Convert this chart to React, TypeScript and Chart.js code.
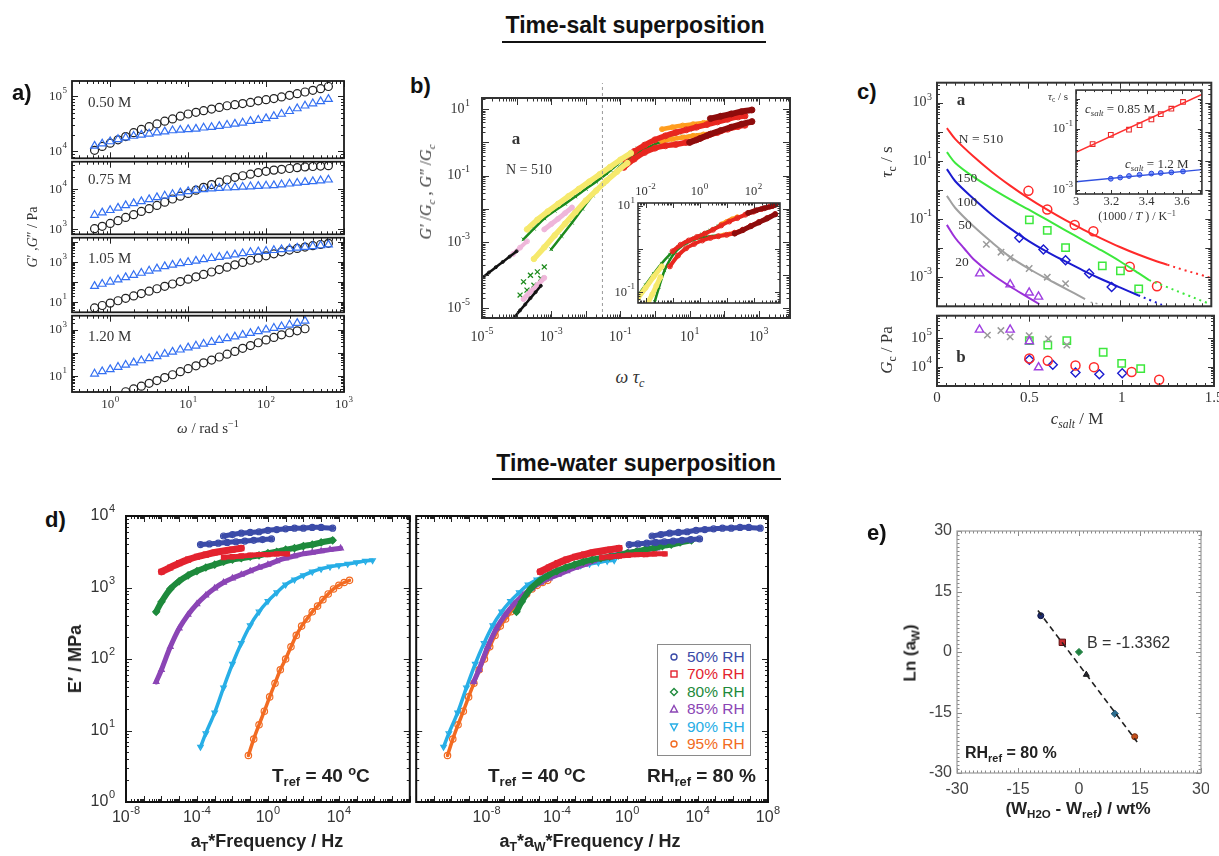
import React, { useEffect, useRef } from 'react';
import { Chart, registerables } from 'chart.js';

Chart.register(...registerables);

const SERIF = '"Liberation Serif", "DejaVu Serif", serif';
const SANS = '"Liberation Sans", "DejaVu Sans", Arial, sans-serif';

/* ---------------- Panel a : frequency sweeps (log10 of G', G'' in Pa) ---------------- */
const OMEGA = [0.63, 0.79, 1.0, 1.26, 1.58, 2.0, 2.51, 3.16, 3.98, 5.01, 6.31, 7.94, 10, 12.6, 15.8, 20, 25.1, 31.6, 39.8, 50.1, 63.1, 79.4, 100, 126, 158, 200, 251, 316, 398, 501, 631];
const A1_GP = [4.02, 4.09, 4.15, 4.21, 4.27, 4.34, 4.40, 4.45, 4.50, 4.55, 4.59, 4.64, 4.68, 4.71, 4.74, 4.77, 4.80, 4.83, 4.85, 4.87, 4.89, 4.92, 4.94, 4.96, 4.99, 5.02, 5.05, 5.08, 5.11, 5.14, 5.18];
const A1_GPP = [4.10, 4.14, 4.18, 4.22, 4.25, 4.28, 4.30, 4.32, 4.34, 4.36, 4.38, 4.39, 4.40, 4.41, 4.43, 4.44, 4.46, 4.48, 4.50, 4.52, 4.55, 4.57, 4.60, 4.64, 4.68, 4.73, 4.78, 4.83, 4.87, 4.91, 4.95];
const A2_GP = [3.02, 3.08, 3.15, 3.22, 3.30, 3.37, 3.45, 3.52, 3.60, 3.68, 3.76, 3.83, 3.90, 3.98, 4.05, 4.12, 4.18, 4.24, 4.30, 4.34, 4.38, 4.42, 4.45, 4.48, 4.50, 4.52, 4.54, 4.56, 4.57, 4.58, 4.59];
const A2_GPP = [3.36, 3.42, 3.48, 3.54, 3.60, 3.65, 3.70, 3.75, 3.80, 3.84, 3.88, 3.92, 3.95, 3.98, 4.00, 4.02, 4.03, 4.04, 4.05, 4.06, 4.07, 4.08, 4.09, 4.10, 4.12, 4.14, 4.16, 4.18, 4.20, 4.22, 4.24];
const A3_GP = [0.71, 0.83, 0.95, 1.07, 1.19, 1.31, 1.43, 1.55, 1.67, 1.79, 1.91, 2.03, 2.15, 2.27, 2.39, 2.51, 2.63, 2.75, 2.87, 2.99, 3.10, 3.21, 3.32, 3.42, 3.52, 3.61, 3.69, 3.76, 3.83, 3.89, 3.95];
const A3_GPP = [1.80, 1.91, 2.02, 2.13, 2.24, 2.35, 2.46, 2.57, 2.68, 2.79, 2.87, 2.94, 3.00, 3.07, 3.14, 3.20, 3.26, 3.32, 3.38, 3.44, 3.50, 3.53, 3.56, 3.60, 3.64, 3.68, 3.72, 3.76, 3.80, 3.84, 3.88];
const A4_OMEGA_GP = OMEGA.slice(4, 28);
const A4_GP = [0.34, 0.46, 0.58, 0.70, 0.82, 0.95, 1.07, 1.20, 1.33, 1.45, 1.58, 1.70, 1.83, 1.95, 2.07, 2.20, 2.32, 2.44, 2.56, 2.67, 2.78, 2.87, 2.95, 3.04];
const A4_OMEGA_GPP = OMEGA.slice(0, 28);
const A4_GPP = [1.11, 1.21, 1.30, 1.40, 1.49, 1.59, 1.68, 1.77, 1.86, 1.96, 2.05, 2.14, 2.23, 2.31, 2.39, 2.47, 2.55, 2.63, 2.70, 2.78, 2.85, 2.93, 3.00, 3.07, 3.14, 3.21, 3.28, 3.38];
const A_CONC = ['0.50 M', '0.75 M', '1.05 M', '1.20 M'];
const A_XTICKS = [1, 10, 100, 1000];
const A1_YTICKS = [1e4, 1e5];
const A2_YTICKS = [1e3, 1e4];
const A3_YTICKS = [10, 1000];
const A4_YTICKS = [10, 1000];

/* ---------------- Panel b : master curve (log10 omega*tau, log10 G/Gc) ---------------- */
const B_BLACK_U_X = [-5.0, -4.8, -4.6, -4.4, -4.2, -4.0];
const B_BLACK_U_Y = [-4.08, -3.92, -3.76, -3.60, -3.44, -3.28];
const B_BLACK_L_X = [-4.05, -3.9, -3.75, -3.6, -3.45, -3.3];
const B_BLACK_L_Y = [-5.25, -5.06, -4.88, -4.69, -4.51, -4.32];
const B_PINK_U_X = [-4.1, -3.9, -3.7];
const B_PINK_U_Y = [-3.36, -3.17, -2.98];
const B_PINK_L1_X = [-3.8, -3.6, -3.4, -3.2];
const B_PINK_L1_Y = [-4.72, -4.5, -4.3, -4.08];
const B_PINK_L2_X = [-3.2, -3.0, -2.8, -2.6, -2.4];
const B_PINK_L2_Y = [-2.62, -2.46, -2.3, -2.13, -1.96];
const B_YEL_U_X = [-3.7, -3.4, -3.1, -2.8, -2.5, -2.2, -1.9, -1.6, -1.3, -1.0, -0.7];
const B_YEL_U_Y = [-2.62, -2.33, -2.08, -1.85, -1.62, -1.40, -1.18, -0.96, -0.74, -0.52, -0.32];
const B_YEL_L_X = [-3.5, -3.2, -2.9, -2.6, -2.3, -2.0, -1.7, -1.4, -1.1, -0.8];
const B_YEL_L_Y = [-3.51, -3.16, -2.80, -2.45, -2.10, -1.75, -1.45, -1.15, -0.88, -0.62];
const B_GRN_U_X = [-3.8, -3.5, -3.2, -2.9, -2.6, -2.3, -2.0, -1.7, -1.4, -1.1, -0.8, -0.5, -0.2, 0.1, 0.4, 0.7, 1.0, 1.25];
const B_GRN_U_Y = [-2.92, -2.60, -2.29, -2.06, -1.85, -1.63, -1.40, -1.18, -0.94, -0.67, -0.40, -0.18, -0.03, 0.08, 0.19, 0.29, 0.39, 0.47];
const B_GRN_L_X = [-3.0, -2.7, -2.4, -2.1, -1.8, -1.5, -1.2, -0.9, -0.6, -0.3, 0, 0.3, 0.6, 0.9, 1.25];
const B_GRN_L_Y = [-3.22, -2.82, -2.42, -2.00, -1.60, -1.24, -0.92, -0.62, -0.38, -0.20, -0.05, 0.05, 0.12, 0.18, 0.23];
const B_GRN_X_X = [-3.9, -3.8, -3.7, -3.6, -3.5, -3.4, -3.3, -3.2];
const B_GRN_X_Y = [-4.6, -4.2, -4.45, -4.0, -4.3, -3.9, -4.1, -3.75];
const B_ORG_U_X = [0.2, 0.5, 0.8, 1.1, 1.4, 1.7];
const B_ORG_U_Y = [0.40, 0.46, 0.51, 0.55, 0.59, 0.62];
const B_ORG_L_X = [0.2, 0.5, 0.8, 1.1, 1.4, 1.7];
const B_ORG_L_Y = [0.04, 0.10, 0.15, 0.20, 0.24, 0.28];
const B_RED_X = [-0.9, -0.6, -0.3, 0, 0.3, 0.6, 0.9, 1.2, 1.5, 1.8, 2.1, 2.4, 2.6];
const B_RED_U_Y = [-0.50, -0.27, -0.08, 0.08, 0.20, 0.30, 0.38, 0.46, 0.54, 0.62, 0.70, 0.77, 0.80];
const B_RED_L_Y = [-0.75, -0.50, -0.30, -0.17, -0.10, -0.06, 0.00, 0.08, 0.20, 0.30, 0.40, 0.48, 0.52];
const B_DRD_U_X = [1.6, 1.9, 2.2, 2.5, 2.8];
const B_DRD_U_Y = [0.72, 0.79, 0.86, 0.93, 0.98];
const B_DRD_L_X = [1.0, 1.3, 1.6, 1.9, 2.2, 2.5, 2.8];
const B_DRD_L_Y = [0.00, 0.12, 0.25, 0.36, 0.46, 0.55, 0.63];
const B_DASH_X = [-1.52, -1.52];
const B_DASH_Y = [-5.29, 1.79];
const B_XTICKS = [1e-5, 1e-3, 1e-1, 10, 1000];
const B_YTICKS = [1e-5, 1e-3, 1e-1, 10];
// inset of b
const BI_GRN_P_X = [-2.28, -2.0, -1.7, -1.4, -1.1, -0.8, -0.5, -0.2, 0.1, 0.4, 0.7, 1.0, 1.2];
const BI_GRN_P_Y = [-1.08, -0.83, -0.57, -0.33, -0.12, 0.05, 0.17, 0.26, 0.35, 0.44, 0.54, 0.63, 0.69];
const BI_YEL_P_X = [-2.28, -2.0, -1.7, -1.4];
const BI_YEL_P_Y = [-1.13, -0.9, -0.64, -0.4];
const BI_RED_P_X = [-1.0, -0.7, -0.4, -0.1, 0.2, 0.5, 0.8, 1.1, 1.4, 1.7, 2.0, 2.3, 2.6, 2.8];
const BI_RED_P_Y = [-0.05, 0.10, 0.20, 0.28, 0.36, 0.45, 0.55, 0.64, 0.72, 0.80, 0.87, 0.93, 0.99, 1.03];
const BI_ORG_P_X = [0.8, 1.0, 1.2, 1.4];
const BI_ORG_P_Y = [0.58, 0.64, 0.70, 0.75];
const BI_DRD_P_X = [1.8, 2.1, 2.4, 2.7, 2.8];
const BI_DRD_P_Y = [0.84, 0.90, 0.95, 1.00, 1.03];
const BI_GRN_Q_X = [-1.66, -1.5, -1.3, -1.1, -0.9, -0.7, -0.5, -0.2, 0.1, 0.4, 0.7, 1.0, 1.2];
const BI_GRN_Q_Y = [-1.22, -0.88, -0.50, -0.25, -0.07, 0.05, 0.13, 0.22, 0.27, 0.30, 0.32, 0.33, 0.35];
const BI_YEL_Q_X = [-1.9, -1.75, -1.6, -1.45];
const BI_YEL_Q_Y = [-1.22, -1.05, -0.85, -0.65];
const BI_RED_Q_X = [-1.1, -0.8, -0.5, -0.2, 0.1, 0.4, 0.7, 1.0, 1.3, 1.6, 1.9, 2.2, 2.5, 2.8];
const BI_RED_Q_Y = [-0.40, -0.15, 0.02, 0.12, 0.20, 0.26, 0.30, 0.33, 0.38, 0.45, 0.54, 0.63, 0.72, 0.81];
const BI_ORG_Q_X = [0.7, 0.9, 1.1, 1.3, 1.5];
const BI_ORG_Q_Y = [0.30, 0.33, 0.35, 0.38, 0.42];
const BI_DRD_Q_X = [1.3, 1.6, 1.9, 2.2, 2.5, 2.8];
const BI_DRD_Q_Y = [0.36, 0.44, 0.53, 0.62, 0.71, 0.81];
const BI_XTICKS = [1e-2, 1, 100];
const BI_YTICKS = [0.1, 10];

/* ---------------- Panel c : tau_c and G_c vs c_salt (log10 values) ---------------- */
const C_RED_LINE_X = [0.054, 0.1, 0.2, 0.3, 0.4, 0.5, 0.6, 0.7, 0.8, 0.9, 1.0, 1.1, 1.2, 1.26];
const C_RED_LINE_Y = [2.13, 1.75, 1.15, 0.62, 0.15, -0.28, -0.67, -1.03, -1.36, -1.67, -1.96, -2.22, -2.45, -2.57];
const C_RED_DOT_X = [1.26, 1.35, 1.45, 1.5];
const C_RED_DOT_Y = [-2.57, -2.75, -2.93, -3.03];
const C_GRN_LINE_X = [0.054, 0.1, 0.2, 0.3, 0.4, 0.5, 0.6, 0.7, 0.8, 0.9, 1.0, 1.1, 1.16];
const C_GRN_LINE_Y = [1.3, 0.93, 0.45, 0.05, -0.32, -0.67, -1.02, -1.38, -1.73, -2.08, -2.45, -2.85, -3.1];
const C_GRN_DOT_X = [1.16, 1.25, 1.35, 1.48];
const C_GRN_DOT_Y = [-3.1, -3.32, -3.57, -3.89];
const C_BLU_LINE_X = [0.054, 0.1, 0.2, 0.3, 0.4, 0.5, 0.6, 0.7, 0.8, 0.9, 1.0, 1.1];
const C_BLU_LINE_Y = [0.72, 0.3, -0.3, -0.85, -1.32, -1.75, -2.12, -2.45, -2.77, -3.07, -3.35, -3.62];
const C_BLU_DOT_X = [1.1, 1.17, 1.23];
const C_BLU_DOT_Y = [-3.62, -3.8, -3.95];
const C_GRY_LINE_X = [0.054, 0.1, 0.2, 0.3, 0.4, 0.5, 0.6, 0.7, 0.81];
const C_GRY_LINE_Y = [-0.2, -0.62, -1.25, -1.8, -2.3, -2.7, -3.05, -3.38, -3.75];
const C_GRY_DOT_X = [0.84, 0.89];
const C_GRY_DOT_Y = [-3.86, -3.93];
const C_PUR_LINE_X = [0.054, 0.1, 0.15, 0.2, 0.3, 0.4, 0.5, 0.56];
const C_PUR_LINE_Y = [-1.2, -1.65, -2.02, -2.38, -2.9, -3.32, -3.7, -3.93];
const C_RED_TAU_X = [0.5, 0.603, 0.753, 0.855, 1.054, 1.203];
const C_RED_TAU_Y = [-0.03, -0.67, -1.2, -1.42, -2.64, -3.31];
const C_GRN_TAU_X = [0.505, 0.603, 0.703, 0.904, 1.003, 1.103];
const C_GRN_TAU_Y = [-1.03, -1.39, -1.98, -2.61, -2.78, -3.4];
const C_BLU_TAU_X = [0.45, 0.582, 0.703, 0.832, 0.955];
const C_BLU_TAU_Y = [-1.64, -2.05, -2.42, -2.87, -3.34];
const C_GRY_TAU_X = [0.27, 0.35, 0.4, 0.504, 0.603, 0.703];
const C_GRY_TAU_Y = [-1.87, -2.14, -2.33, -2.7, -3.0, -3.22];
const C_PUR_TAU_X = [0.234, 0.4, 0.504, 0.555];
const C_PUR_TAU_Y = [-2.87, -3.25, -3.53, -3.67];
const C_PUR_G_X = [0.23, 0.396, 0.5, 0.55];
const C_PUR_G_Y = [5.3, 5.3, 4.89, 3.98];
const C_GRY_G_X = [0.273, 0.346, 0.396, 0.499, 0.603, 0.703];
const C_GRY_G_Y = [5.11, 5.27, 5.05, 5.09, 4.98, 4.76];
const C_GRN_G_X = [0.5, 0.6, 0.703, 0.9, 1.0, 1.103];
const C_GRN_G_Y = [4.92, 4.76, 4.92, 4.51, 4.12, 3.94];
const C_RED_G_X = [0.5, 0.6, 0.75, 0.85, 1.054, 1.203];
const C_RED_G_Y = [4.29, 4.21, 4.05, 3.99, 3.82, 3.55];
const C_BLU_G_X = [0.5, 0.627, 0.75, 0.879, 1.003];
const C_BLU_G_Y = [4.25, 4.07, 3.8, 3.74, 3.78];
const C_N_LABELS = ['N = 510', '150', '100', '50', '20'];
const C_XTICKS = [0, 0.5, 1, 1.5];
const C_TOP_YTICKS = [1e-3, 1e-1, 10, 1000];
const C_BOT_YTICKS = [1e4, 1e5];
// inset of c
const CI_RED_FIT_X = [3.0, 3.713];
const CI_RED_FIT_Y = [-1.76, 0.14];
const CI_RED_X = [3.094, 3.197, 3.30, 3.36, 3.427, 3.48, 3.54, 3.606];
const CI_RED_Y = [-1.49, -1.19, -1.02, -0.87, -0.68, -0.51, -0.33, -0.11];
const CI_BLU_FIT_X = [3.0, 3.713];
const CI_BLU_FIT_Y = [-2.73, -2.33];
const CI_BLU_X = [3.197, 3.25, 3.30, 3.36, 3.427, 3.48, 3.54, 3.606];
const CI_BLU_Y = [-2.63, -2.59, -2.54, -2.50, -2.46, -2.44, -2.42, -2.39];
const CI_XTICKS = [3, 3.2, 3.4, 3.6];
const CI_YTICKS = [1e-3, 1e-1];

/* ---------------- Panel d : E' master curves (log10 freq, log10 MPa) ---------------- */
const D50A_X = [-3.8, -3.3, -2.8, -2.3, -1.8, -1.3, -0.8, -0.3, 0.2];
const D50A_Y = [3.60, 3.61, 3.62, 3.63, 3.64, 3.65, 3.66, 3.67, 3.68];
const D50B_X = [-2.5, -2.0, -1.5, -1.0, -0.5, 0, 0.5, 1.0, 1.5, 2.0, 2.5, 3.0, 3.65];
const D50B_Y = [3.72, 3.74, 3.76, 3.77, 3.78, 3.80, 3.81, 3.82, 3.83, 3.83, 3.84, 3.84, 3.83];
const D70A_X = [-6.0, -5.5, -5.0, -4.5, -4.0, -3.5, -3.0, -2.5, -2.0, -1.5];
const D70A_Y = [3.22, 3.28, 3.34, 3.39, 3.43, 3.46, 3.49, 3.51, 3.53, 3.55];
const D70B_X = [-2.5, -2.0, -1.5, -1.0, -0.5, 0, 0.5, 1.1];
const D70B_Y = [3.42, 3.43, 3.44, 3.45, 3.46, 3.46, 3.47, 3.47];
const D80_X = [-6.3, -6.0, -5.5, -5.0, -4.5, -4.0, -3.5, -3.0, -2.5, -2.0, -1.5, -1.0, -0.5, 0, 0.5, 1.0, 1.5, 2.0, 2.5, 3.0, 3.65];
const D80_Y = [2.66, 2.80, 2.98, 3.09, 3.17, 3.23, 3.28, 3.32, 3.36, 3.39, 3.41, 3.43, 3.45, 3.48, 3.50, 3.53, 3.55, 3.58, 3.60, 3.63, 3.66];
const D85_X = [-6.3, -6.0, -5.5, -5.0, -4.5, -4.0, -3.5, -3.0, -2.5, -2.0, -1.5, -1.0, -0.5, 0, 0.5, 1.0, 1.5, 2.0, 2.5, 3.0, 3.5, 4.1];
const D85_Y = [1.68, 1.85, 2.17, 2.43, 2.62, 2.77, 2.89, 2.99, 3.07, 3.13, 3.18, 3.23, 3.28, 3.32, 3.37, 3.41, 3.44, 3.47, 3.49, 3.51, 3.53, 3.55];
const D90_X = [-3.8, -3.5, -3.0, -2.5, -2.0, -1.5, -1.0, -0.5, 0, 0.5, 1.0, 1.5, 2.0, 2.5, 3.0, 3.5, 4.0, 4.5, 5.0, 5.5, 5.9];
const D90_Y = [0.77, 0.96, 1.25, 1.60, 1.93, 2.22, 2.47, 2.66, 2.81, 2.93, 3.04, 3.11, 3.17, 3.22, 3.26, 3.29, 3.31, 3.33, 3.35, 3.37, 3.38];
const D95_X = [-1.1, -0.8, -0.5, -0.2, 0.1, 0.4, 0.7, 1.0, 1.3, 1.6, 1.9, 2.2, 2.5, 2.8, 3.1, 3.4, 3.7, 4.0, 4.3, 4.6];
const D95_Y = [0.65, 0.88, 1.08, 1.27, 1.47, 1.66, 1.85, 2.00, 2.17, 2.33, 2.46, 2.56, 2.66, 2.74, 2.83, 2.91, 2.98, 3.03, 3.07, 3.10];
const D_LABELS = ['50% RH', '70% RH', '80% RH', '85% RH', '90% RH', '95% RH'];
const D_COLORS = ['#3b4ba8', '#e3232f', '#1e8a3c', '#8b45b5', '#27aee6', '#f26b22'];
const D_YTICKS = [1, 10, 100, 1000, 10000];
const D_XTICKS_L = [1e-8, 1e-4, 1, 1e4];
const D_XTICKS_R = [1e-8, 1e-4, 1, 1e4, 1e8];

/* ---------------- Panel e : shift factors ---------------- */
const E_DW = [-9.4, -4.1, 0, 1.8, 8.8, 13.7];
const E_LNAW = [9.0, 2.4, 0, -5.6, -15.3, -21.0];
const E_FIT_X = [-10.1, 14.3];
const E_FIT_Y = [10.3, -22.3];
const E_COLORS = ['#1d2b6e', '#c42a2f', '#1f8040', '#2a2a3a', '#2b6d8f', '#c4501c'];
const E_TICKS = [-30, -15, 0, 15, 30];

/* ---------------- helpers ---------------- */
const pw = (xl: number[], yl: number[]) => xl.map((v, i) => ({ x: Math.pow(10, v), y: Math.pow(10, yl[i]) }));
const pwY = (xs: number[], yl: number[]) => xs.map((v, i) => ({ x: v, y: Math.pow(10, yl[i]) }));
const lin = (xs: number[], ys: number[]) => xs.map((v, i) => ({ x: v, y: ys[i] }));
const shiftX = (xl: number[], k: number) => xl.map((v) => v + E_LNAW[k] / Math.LN10);

function marks(data: any[], color: string, style: string, r: number, bw = 1.2, fill = 'rgba(0,0,0,0)', rot = 0) {
  return { data, showLine: false, pointStyle: style, pointRadius: r, pointRotation: rot, pointBorderColor: color, pointBackgroundColor: fill, pointBorderWidth: bw, borderColor: color, backgroundColor: fill };
}
function line(data: any[], color: string, width: number, dash: number[] = [], tension = 0.35) {
  return { data, showLine: true, pointRadius: 0, borderColor: color, backgroundColor: color, borderWidth: width, borderDash: dash, tension, fill: false };
}
function band(data: any[], color: string, width: number, r: number, style: string, bw = 1, rot = 0) {
  return { data, showLine: true, borderColor: color, backgroundColor: color, borderWidth: width, borderCapStyle: 'round', tension: 0.35, fill: false, pointStyle: style, pointRadius: r, pointRotation: rot, pointBorderColor: color, pointBackgroundColor: 'rgba(255,255,255,0)', pointBorderWidth: bw };
}

function genTicks(s: any, min: number, max: number) {
  const majors: number[] = [];
  const minors: number[] = [];
  const eps = 1e-9;
  if (s.log) {
    const k0 = Math.floor(Math.log10(min));
    const k1 = Math.ceil(Math.log10(max));
    for (let k = k0; k <= k1; k++) {
      const d = Math.pow(10, k);
      if (d >= min * (1 - eps) && d <= max * (1 + eps)) majors.push(d);
      for (let m = 2; m <= 9; m++) {
        const v = m * d;
        if (v > min && v < max) minors.push(v);
      }
    }
  } else {
    const st = s.step;
    for (let i = Math.ceil(min / st - eps); i * st <= max + eps; i++) majors.push(i * st);
    if (s.minorStep) {
      const ms = s.minorStep;
      for (let i = Math.ceil(min / ms - eps); i * ms <= max + eps; i++) {
        const v = i * ms;
        if (!majors.some((m) => Math.abs(m - v) < ms * 0.01)) minors.push(v);
      }
    }
  }
  return { majors, minors };
}

function drawTickLabel(ctx: any, txt: string, x: number, y: number, align: string, o: any) {
  const parts = txt.split('^');
  const base = parts[0];
  const sup = parts.length > 1 ? parts[1] : null;
  const f1 = `normal ${o.size}px ${o.font}`;
  const ss = Math.round(o.size * 0.7);
  const f2 = `normal ${ss}px ${o.font}`;
  ctx.font = f1;
  const bw = ctx.measureText(base).width;
  let sw = 0;
  if (sup !== null) {
    ctx.font = f2;
    sw = ctx.measureText(sup).width + 0.5;
  }
  const tw = bw + sw;
  const x0 = align === 'center' ? x - tw / 2 : align === 'right' ? x - tw : x;
  ctx.fillStyle = o.color;
  ctx.textAlign = 'left';
  ctx.textBaseline = 'middle';
  ctx.font = f1;
  ctx.fillText(base, x0, y);
  if (sup !== null) {
    ctx.font = f2;
    ctx.fillText(sup, x0 + bw + 0.5, y - o.size * 0.42);
  }
}

function makeDeco(o: any) {
  return {
    id: 'deco',
    beforeDatasetsDraw(chart: any) {
      if (!o.bg) return;
      const { ctx, chartArea: ca } = chart;
      ctx.save();
      ctx.fillStyle = o.bg;
      ctx.fillRect(ca.left, ca.top, ca.right - ca.left, ca.bottom - ca.top);
      ctx.restore();
    },
    afterDraw(chart: any) {
      const { ctx, chartArea: ca } = chart;
      ctx.save();
      ['x', 'y'].forEach((ax) => {
        const s = o[ax];
        if (!s) return;
        const sc = chart.scales[ax];
        const { majors, minors } = genTicks(s, sc.min, sc.max);
        ctx.strokeStyle = o.tickColor || '#222';
        ctx.lineWidth = o.tickWidth || 1;
        const tick = (v: number, len: number) => {
          const p = Math.round(sc.getPixelForValue(v)) + 0.5;
          ctx.beginPath();
          if (ax === 'x') {
            ctx.moveTo(p, ca.bottom);
            ctx.lineTo(p, ca.bottom - len);
            ctx.moveTo(p, ca.top);
            ctx.lineTo(p, ca.top + len);
          } else {
            ctx.moveTo(ca.left, p);
            ctx.lineTo(ca.left + len, p);
            ctx.moveTo(ca.right, p);
            ctx.lineTo(ca.right - len, p);
          }
          ctx.stroke();
        };
        minors.forEach((v) => tick(v, o.minor));
        majors.forEach((v) => tick(v, o.major));
        (s.labels || []).forEach((v: number) => {
          const p = sc.getPixelForValue(v);
          const txt = s.log ? '10^' + Math.round(Math.log10(v)) : String(v);
          const side = s.side || (ax === 'x' ? 'bottom' : 'left');
          if (side === 'bottom') drawTickLabel(ctx, txt, p, ca.bottom + s.offset, 'center', o);
          else if (side === 'top') drawTickLabel(ctx, txt, p, ca.top - s.offset, 'center', o);
          else if (side === 'left') drawTickLabel(ctx, txt, ca.left - s.offset, p, 'right', o);
          else drawTickLabel(ctx, txt, ca.right + s.offset, p, 'left', o);
        });
      });
      ctx.strokeStyle = o.frameColor || '#222';
      ctx.lineWidth = o.frameWidth || 1.5;
      ctx.strokeRect(ca.left, ca.top, ca.right - ca.left, ca.bottom - ca.top);
      ctx.restore();
    },
  };
}

function Plot(props: any) {
  const { box, pad, x, y, datasets, deco } = props;
  const ref = useRef<HTMLCanvasElement | null>(null);
  useEffect(() => {
    const chart = new Chart(ref.current as any, {
      type: 'scatter',
      data: { datasets },
      options: {
        animation: false,
        responsive: false,
        maintainAspectRatio: false,
        events: [],
        layout: { padding: pad },
        plugins: { legend: { display: false }, tooltip: { enabled: false } },
        scales: {
          x: { ...x, display: false, bounds: 'data' },
          y: { ...y, display: false, bounds: 'data' },
        },
      } as any,
      plugins: [makeDeco(deco) as any],
    } as any);
    return () => chart.destroy();
  }, []);
  const W = box.w + pad.left + pad.right;
  const H = box.h + pad.top + pad.bottom;
  return (
    <canvas
      ref={ref}
      width={W}
      height={H}
      style={{ position: 'absolute', left: box.l - pad.left, top: box.t - pad.top, width: W, height: H }}
    />
  );
}

function Txt(props: any) {
  const { x, y, a = 'l', size = 14, f = SERIF, b = false, i = false, c = '#222', rot = false, children } = props;
  const tx = a === 'c' ? '-50%' : a === 'r' ? '-100%' : '0';
  return (
    <div
      style={{
        position: 'absolute',
        left: x,
        top: y,
        transform: `translate(${tx}, -50%)${rot ? ' rotate(-90deg)' : ''}`,
        fontSize: size,
        fontFamily: f,
        fontWeight: b ? 'bold' : 'normal',
        fontStyle: i ? 'italic' : 'normal',
        color: c,
        whiteSpace: 'nowrap',
        lineHeight: 1,
      }}
    >
      {children}
    </div>
  );
}
const Sub = (p: any) => <sub style={{ fontSize: '0.68em', verticalAlign: '-0.35em', lineHeight: 0 }}>{p.children}</sub>;
const Sup = (p: any) => <sup style={{ fontSize: '0.68em', verticalAlign: '0.5em', lineHeight: 0 }}>{p.children}</sup>;

function LegendMark(props: any) {
  const { k, color } = props;
  let shape: any = null;
  if (k === 0 || k === 5) shape = <circle cx={5} cy={5} r={3} fill="none" stroke={color} strokeWidth={1.4} />;
  else if (k === 1) shape = <rect x={2} y={2} width={6} height={6} fill="none" stroke={color} strokeWidth={1.4} />;
  else if (k === 2) shape = <polygon points="5,1.5 8.5,5 5,8.5 1.5,5" fill="none" stroke={color} strokeWidth={1.4} />;
  else if (k === 3) shape = <polygon points="5,1.5 8.5,8 1.5,8" fill="none" stroke={color} strokeWidth={1.4} />;
  else shape = <polygon points="1.5,2 8.5,2 5,8.5" fill="none" stroke={color} strokeWidth={1.4} />;
  return <svg width={10} height={10} style={{ position: 'absolute', left: 11, top: props.top - 5 }}>{shape}</svg>;
}

/* ---------------- configs ---------------- */
const aDeco = (labelsY: number[], labelsX: number[]) => ({
  font: SERIF, size: 13, color: '#333', frameColor: '#1a1a1a', frameWidth: 1.8, tickColor: '#222', tickWidth: 1, major: 6, minor: 3,
  x: { log: true, labels: labelsX, side: 'bottom', offset: 13 },
  y: { log: true, labels: labelsY, side: 'left', offset: 5 },
});
const AX = { type: 'logarithmic', min: Math.pow(10, -0.49), max: 1000 };
const aSets = (gp: any[], gpp: any[]) => [
  marks(gpp, '#3470f2', 'triangle', 4.5, 1.2),
  marks(gp, '#222', 'circle', 4, 1.2),
];

export default function App() {
  const dRight = (xl: number[], k: number) => shiftX(xl, k);
  const dSets = (right: boolean) => [
    band(pw(right ? dRight(D50A_X, 0) : D50A_X, D50A_Y), D_COLORS[0], 5, 3, 'circle', 1.2),
    band(pw(right ? dRight(D50B_X, 0) : D50B_X, D50B_Y), D_COLORS[0], 5, 3, 'circle', 1.2),
    band(pw(right ? dRight(D70B_X, 1) : D70B_X, D70B_Y), D_COLORS[1], 5, 3, 'rect', 1.2),
    band(pw(right ? dRight(D70A_X, 1) : D70A_X, D70A_Y), D_COLORS[1], 7, 3.5, 'rect', 1.2),
    band(pw(right ? dRight(D80_X, 2) : D80_X, D80_Y), D_COLORS[2], 6, 3.5, 'rectRot', 1.2),
    band(pw(right ? dRight(D85_X, 3) : D85_X, D85_Y), D_COLORS[3], 5, 3.2, 'triangle', 1.2),
    band(pw(right ? dRight(D90_X, 4) : D90_X, D90_Y), D_COLORS[4], 3.5, 3.2, 'triangle', 1.2, 180),
    band(pw(right ? dRight(D95_X, 5) : D95_X, D95_Y), D_COLORS[5], 3.5, 3.2, 'circle', 1.2),
  ];
  const dDeco = (labelsX: number[], labelsY: number[]) => ({
    font: SANS, size: 16, color: '#333', frameColor: '#111', frameWidth: 2, tickColor: '#222', tickWidth: 1, major: 6, minor: 3,
    x: { log: true, labels: labelsX, side: 'bottom', offset: 16 },
    y: { log: true, labels: labelsY, side: 'left', offset: 11 },
  });

  return (
    <div style={{ position: 'absolute', left: 0, top: 0, width: 1219, height: 856, overflow: 'hidden', background: '#fff' }}>
      {/* ---------- panel a ---------- */}
      <Plot box={{ l: 72, t: 81, w: 272, h: 79 }} pad={{ left: 45, right: 6, top: 6, bottom: 4 }}
        x={AX} y={{ type: 'logarithmic', min: Math.pow(10, 3.875), max: Math.pow(10, 5.28) }}
        datasets={aSets(pwY(OMEGA, A1_GP), pwY(OMEGA, A1_GPP))} deco={aDeco(A1_YTICKS, [])} />
      <Plot box={{ l: 72, t: 160, w: 272, h: 76 }} pad={{ left: 45, right: 6, top: 4, bottom: 4 }}
        x={AX} y={{ type: 'logarithmic', min: Math.pow(10, 2.88), max: Math.pow(10, 4.69) }}
        datasets={aSets(pwY(OMEGA, A2_GP), pwY(OMEGA, A2_GPP))} deco={aDeco(A2_YTICKS, [])} />
      <Plot box={{ l: 72, t: 236, w: 272, h: 78 }} pad={{ left: 45, right: 6, top: 4, bottom: 4 }}
        x={AX} y={{ type: 'logarithmic', min: Math.pow(10, 0.49), max: Math.pow(10, 4.23) }}
        datasets={aSets(pwY(OMEGA, A3_GP), pwY(OMEGA, A3_GPP))} deco={aDeco(A3_YTICKS, [])} />
      <Plot box={{ l: 72, t: 314, w: 272, h: 78 }} pad={{ left: 45, right: 10, top: 4, bottom: 30 }}
        x={AX} y={{ type: 'logarithmic', min: Math.pow(10, 0.33), max: Math.pow(10, 3.6) }}
        datasets={aSets(pwY(A4_OMEGA_GP, A4_GP), pwY(A4_OMEGA_GPP, A4_GPP))} deco={aDeco(A4_YTICKS, A_XTICKS)} />

      {/* ---------- panel b ---------- */}
      <Plot box={{ l: 482, t: 98, w: 308, h: 220 }} pad={{ left: 50, right: 10, top: 18, bottom: 30 }}
        x={{ type: 'logarithmic', min: 1e-5, max: Math.pow(10, 3.9) }}
        y={{ type: 'logarithmic', min: Math.pow(10, -5.29), max: Math.pow(10, 1.34) }}
        datasets={[
          { ...line(pw(B_DASH_X, B_DASH_Y), '#9a9a9a', 1, [3, 3], 0), clip: false },
          band(pw(B_BLACK_U_X, B_BLACK_U_Y), '#111', 2.5, 1.5, 'circle', 1),
          band(pw(B_BLACK_L_X, B_BLACK_L_Y), '#111', 2.5, 1.5, 'circle', 1),
          band(pw(B_PINK_U_X, B_PINK_U_Y), '#efb6da', 4, 2.5, 'circle', 1),
          band(pw(B_PINK_L1_X, B_PINK_L1_Y), '#efb6da', 5, 2.5, 'circle', 1),
          band(pw(B_PINK_L2_X, B_PINK_L2_Y), '#efb6da', 5, 2.5, 'circle', 1),
          band(pw(B_YEL_U_X, B_YEL_U_Y), '#f6e96c', 5.5, 2.8, 'circle', 1),
          band(pw(B_YEL_L_X, B_YEL_L_Y), '#f6e96c', 5.5, 2.8, 'circle', 1),
          band(pw(B_DRD_U_X, B_DRD_U_Y), '#8e0c0c', 6, 3, 'circle', 1),
          band(pw(B_DRD_L_X, B_DRD_L_Y), '#8e0c0c', 6, 3, 'circle', 1),
          band(pw(B_RED_X, B_RED_U_Y), '#e8261f', 5.5, 3, 'circle', 1),
          band(pw(B_RED_X, B_RED_L_Y), '#e8261f', 5.5, 3, 'circle', 1),
          band(pw(B_ORG_U_X, B_ORG_U_Y), '#ff9d1e', 4.5, 2.5, 'circle', 1),
          band(pw(B_ORG_L_X, B_ORG_L_Y), '#ff9d1e', 4.5, 2.5, 'circle', 1),
          band(pw(B_GRN_U_X, B_GRN_U_Y), '#1c8a1c', 2.5, 2.5, 'crossRot', 1),
          band(pw(B_GRN_L_X, B_GRN_L_Y), '#1c8a1c', 2.5, 2.5, 'crossRot', 1),
          marks(pw(B_GRN_X_X, B_GRN_X_Y), '#1c8a1c', 'crossRot', 3.5, 1.3),
        ]}
        deco={{
          font: SERIF, size: 14, color: '#333', frameColor: '#333', frameWidth: 2, tickColor: '#333', tickWidth: 1, major: 7, minor: 3.5,
          x: { log: true, labels: B_XTICKS, side: 'bottom', offset: 19 },
          y: { log: true, labels: B_YTICKS, side: 'left', offset: 12 },
        }} />
      <Plot box={{ l: 638, t: 203, w: 143, h: 101 }} pad={{ left: 30, right: 4, top: 20, bottom: 4 }}
        x={{ type: 'logarithmic', min: Math.pow(10, -2.28), max: Math.pow(10, 2.98) }}
        y={{ type: 'logarithmic', min: Math.pow(10, -1.25), max: Math.pow(10, 1.07) }}
        datasets={[
          band(pw(BI_YEL_P_X, BI_YEL_P_Y), '#f6e96c', 5, 2.5, 'circle', 1),
          band(pw(BI_YEL_Q_X, BI_YEL_Q_Y), '#f6e96c', 5, 2.5, 'circle', 1),
          band(pw(BI_DRD_P_X, BI_DRD_P_Y), '#8e0c0c', 5, 2.5, 'circle', 1),
          band(pw(BI_DRD_Q_X, BI_DRD_Q_Y), '#8e0c0c', 5, 2.5, 'circle', 1),
          band(pw(BI_RED_P_X, BI_RED_P_Y), '#e8261f', 4, 2.5, 'circle', 1),
          band(pw(BI_RED_Q_X, BI_RED_Q_Y), '#e8261f', 4, 2.5, 'circle', 1),
          band(pw(BI_ORG_P_X, BI_ORG_P_Y), '#ff9d1e', 4, 2, 'circle', 1),
          band(pw(BI_ORG_Q_X, BI_ORG_Q_Y), '#ff9d1e', 4, 2, 'circle', 1),
          band(pw(BI_GRN_P_X, BI_GRN_P_Y), '#1c8a1c', 2.5, 2, 'crossRot', 1),
          band(pw(BI_GRN_Q_X, BI_GRN_Q_Y), '#1c8a1c', 2.5, 2, 'crossRot', 1),
        ]}
        deco={{
          font: SERIF, size: 12.5, color: '#333', frameColor: '#333', frameWidth: 1.6, tickColor: '#333', tickWidth: 1, major: 5, minor: 2.5, bg: '#fff',
          x: { log: true, labels: BI_XTICKS, side: 'top', offset: 11 },
          y: { log: true, labels: BI_YTICKS, side: 'left', offset: 3 },
        }} />

      {/* ---------- panel c ---------- */}
      <Plot box={{ l: 937, t: 80, w: 277, h: 231 }} pad={{ left: 55, right: 4, top: 4, bottom: 2 }}
        x={{ type: 'linear', min: 0, max: 1.5 }}
        y={{ type: 'logarithmic', min: 1e-4, max: Math.pow(10, 3.69) }}
        datasets={[
          line(pwY(C_RED_LINE_X, C_RED_LINE_Y), '#ff2a2a', 2),
          line(pwY(C_RED_DOT_X, C_RED_DOT_Y), '#ff2a2a', 2, [2, 4]),
          line(pwY(C_GRN_LINE_X, C_GRN_LINE_Y), '#3de83d', 2),
          line(pwY(C_GRN_DOT_X, C_GRN_DOT_Y), '#3de83d', 2, [2, 4]),
          line(pwY(C_BLU_LINE_X, C_BLU_LINE_Y), '#1b1bd0', 2),
          line(pwY(C_BLU_DOT_X, C_BLU_DOT_Y), '#1b1bd0', 2, [2, 4]),
          line(pwY(C_GRY_LINE_X, C_GRY_LINE_Y), '#a0a0a0', 2),
          line(pwY(C_GRY_DOT_X, C_GRY_DOT_Y), '#a0a0a0', 1.5, [2, 3]),
          line(pwY(C_PUR_LINE_X, C_PUR_LINE_Y), '#9b30d9', 2),
          marks(pwY(C_RED_TAU_X, C_RED_TAU_Y), '#ff2a2a', 'circle', 4.5, 1.5),
          marks(pwY(C_GRN_TAU_X, C_GRN_TAU_Y), '#3de83d', 'rect', 5.2, 1.5),
          marks(pwY(C_BLU_TAU_X, C_BLU_TAU_Y), '#1b1bd0', 'rectRot', 4.5, 1.4),
          marks(pwY(C_GRY_TAU_X, C_GRY_TAU_Y), '#9a9a9a', 'crossRot', 4.5, 1.5),
          marks(pwY(C_PUR_TAU_X, C_PUR_TAU_Y), '#a040e0', 'triangle', 4.8, 1.4),
        ]}
        deco={{
          font: SERIF, size: 14, color: '#333', frameColor: '#333', frameWidth: 2, tickColor: '#333', tickWidth: 1, major: 6, minor: 3,
          x: { log: false, step: 0.5, minorStep: 0.05, labels: [] },
          y: { log: true, labels: C_TOP_YTICKS, side: 'left', offset: 5 },
        }} />
      <Plot box={{ l: 1076, t: 89, w: 127, h: 105 }} pad={{ left: 30, right: 4, top: 4, bottom: 18 }}
        x={{ type: 'linear', min: 3, max: 3.713 }}
        y={{ type: 'logarithmic', min: Math.pow(10, -3.13), max: Math.pow(10, 0.28) }}
        datasets={[
          line(pwY(CI_RED_FIT_X, CI_RED_FIT_Y), '#ff3030', 1.5, [], 0),
          line(pwY(CI_BLU_FIT_X, CI_BLU_FIT_Y), '#3050e0', 1.5, [], 0),
          marks(pwY(CI_RED_X, CI_RED_Y), '#e82a2a', 'rect', 3.3, 1.1),
          marks(pwY(CI_BLU_X, CI_BLU_Y), '#2a46d8', 'circle', 2.4, 1, '#7f9bff'),
        ]}
        deco={{
          font: SERIF, size: 12.5, color: '#333', frameColor: '#333', frameWidth: 1.6, tickColor: '#333', tickWidth: 1, major: 4, minor: 2, bg: '#fff',
          x: { log: false, step: 0.2, minorStep: 0.05, labels: CI_XTICKS, side: 'bottom', offset: 8 },
          y: { log: true, labels: CI_YTICKS, side: 'left', offset: 3 },
        }} />
      <Plot box={{ l: 937, t: 311, w: 277, h: 75 }} pad={{ left: 55, right: 10, top: 2, bottom: 30 }}
        x={{ type: 'linear', min: 0, max: 1.5 }}
        y={{ type: 'logarithmic', min: Math.pow(10, 3.33), max: Math.pow(10, 5.79) }}
        datasets={[
          marks(pwY(C_PUR_G_X, C_PUR_G_Y), '#a040e0', 'triangle', 4.8, 1.4),
          marks(pwY(C_GRY_G_X, C_GRY_G_Y), '#9a9a9a', 'crossRot', 4.5, 1.5),
          marks(pwY(C_GRN_G_X, C_GRN_G_Y), '#3de83d', 'rect', 5.2, 1.5),
          marks(pwY(C_RED_G_X, C_RED_G_Y), '#ff2a2a', 'circle', 4.5, 1.5),
          marks(pwY(C_BLU_G_X, C_BLU_G_Y), '#1b1bd0', 'rectRot', 4.5, 1.4),
        ]}
        deco={{
          font: SERIF, size: 15, color: '#333', frameColor: '#333', frameWidth: 2, tickColor: '#333', tickWidth: 1, major: 6, minor: 3,
          x: { log: false, step: 0.5, minorStep: 0.05, labels: C_XTICKS, side: 'bottom', offset: 12 },
          y: { log: true, labels: C_BOT_YTICKS, side: 'left', offset: 5 },
        }} />

      {/* ---------- panel d ---------- */}
      <Plot box={{ l: 126, t: 516, w: 287, h: 286 }} pad={{ left: 50, right: 2, top: 12, bottom: 30 }}
        x={{ type: 'logarithmic', min: 1e-8, max: 1e8 }}
        y={{ type: 'logarithmic', min: 1, max: 1e4 }}
        datasets={dSets(false)} deco={dDeco(D_XTICKS_L, D_YTICKS)} />
      <Plot box={{ l: 413, t: 516, w: 355, h: 286 }} pad={{ left: 2, right: 12, top: 12, bottom: 30 }}
        x={{ type: 'logarithmic', min: 1e-12, max: 1e8 }}
        y={{ type: 'logarithmic', min: 1, max: 1e4 }}
        datasets={dSets(true)} deco={dDeco(D_XTICKS_R, [])} />

      {/* ---------- panel e ---------- */}
      <Plot box={{ l: 957, t: 531, w: 244, h: 242 }} pad={{ left: 45, right: 8, top: 8, bottom: 28 }}
        x={{ type: 'linear', min: -30, max: 30 }}
        y={{ type: 'linear', min: -30, max: 30 }}
        datasets={[
          line(lin(E_FIT_X, E_FIT_Y), '#222', 1.6, [6, 4], 0),
          {
            data: lin(E_DW, E_LNAW), showLine: false,
            pointStyle: ['circle', 'rect', 'rectRot', 'triangle', 'rectRot', 'circle'],
            pointRadius: [3, 4.5, 3.6, 3.4, 3.6, 3],
            pointBackgroundColor: E_COLORS,
            pointBorderColor: ['#0d1440', '#5a0f10', '#1f8040', '#111', '#1d4f6a', '#7a2e0e'],
            pointBorderWidth: 1,
          },
        ]}
        deco={{
          font: SANS, size: 16, color: '#444', frameColor: '#9a9a9a', frameWidth: 1.2, tickColor: '#888', tickWidth: 1, major: 5, minor: 2.5,
          x: { log: false, step: 15, minorStep: 1, labels: E_TICKS, side: 'bottom', offset: 17 },
          y: { log: false, step: 15, minorStep: 1, labels: E_TICKS, side: 'left', offset: 5 },
        }} />

      {/* ---------- titles ---------- */}
      <Txt x={635} y={25} a="c" size={23} f={SANS} b c="#111">Time-salt superposition</Txt>
      <div style={{ position: 'absolute', left: 502, top: 41, width: 264, height: 2, background: '#111' }} />
      <Txt x={636} y={463} a="c" size={23} f={SANS} b c="#111">Time-water superposition</Txt>
      <div style={{ position: 'absolute', left: 492, top: 478, width: 289, height: 2, background: '#111' }} />

      {/* ---------- a texts ---------- */}
      <Txt x={12} y={93} size={22} f={SANS} b c="#111">a)</Txt>
      <Txt x={88} y={102} size={15} c="#333">{A_CONC[0]}</Txt>
      <Txt x={88} y={179} size={15} c="#333">{A_CONC[1]}</Txt>
      <Txt x={88} y={258} size={15} c="#333">{A_CONC[2]}</Txt>
      <Txt x={88} y={336} size={15} c="#333">{A_CONC[3]}</Txt>
      <Txt x={33} y={237} a="c" rot size={14} c="#333"><i>G</i>′ ,<i>G</i>″ / Pa</Txt>
      <Txt x={208} y={428} a="c" size={15} c="#333"><i>ω</i> / rad s<Sup>−1</Sup></Txt>

      {/* ---------- b texts ---------- */}
      <Txt x={410} y={86} size={22} f={SANS} b c="#111">b)</Txt>
      <Txt x={516} y={138} a="c" size={17} b c="#333">a</Txt>
      <Txt x={529} y={170} a="c" size={14} c="#333">N = 510</Txt>
      <Txt x={426} y={192} a="c" rot size={16} c="#333"><i>G′</i> /<i>G</i><Sub><i>c</i></Sub> , <i>G″</i> /<i>G</i><Sub><i>c</i></Sub></Txt>
      <Txt x={630} y={377} a="c" size={18} c="#333"><i>ω τ</i><Sub><i>c</i></Sub></Txt>

      {/* ---------- c texts ---------- */}
      <Txt x={857} y={92} size={22} f={SANS} b c="#111">c)</Txt>
      <Txt x={961} y={99} a="c" size={17} b c="#333">a</Txt>
      <Txt x={961} y={356} a="c" size={17} b c="#333">b</Txt>
      <Txt x={981} y={139} a="c" size={13.5} c="#333">{C_N_LABELS[0]}</Txt>
      <Txt x={967} y={178} a="c" size={13.5} c="#333">{C_N_LABELS[1]}</Txt>
      <Txt x={967} y={202} a="c" size={13.5} c="#333">{C_N_LABELS[2]}</Txt>
      <Txt x={965} y={225} a="c" size={13.5} c="#333">{C_N_LABELS[3]}</Txt>
      <Txt x={962} y={262} a="c" size={13.5} c="#333">{C_N_LABELS[4]}</Txt>
      <Txt x={886} y={162} a="c" rot size={17} c="#333"><i>τ</i><Sub>c</Sub> / s</Txt>
      <Txt x={886} y={350} a="c" rot size={17} c="#333"><i>G</i><Sub>c</Sub> / Pa</Txt>
      <Txt x={1077} y={418} a="c" size={17} c="#333"><i>c</i><Sub><i>salt</i></Sub> / M</Txt>
      <Txt x={1058} y={96} a="c" size={11} c="#333"><i>τ</i><Sub>c</Sub> / s</Txt>
      <Txt x={1085} y={108} size={13} c="#333"><i>c</i><Sub><i>salt</i></Sub> = 0.85 M</Txt>
      <Txt x={1125} y={163} size={13} c="#333"><i>c</i><Sub><i>salt</i></Sub> = 1.2 M</Txt>
      <Txt x={1137} y={216} a="c" size={12} c="#333">(1000 / <i>T</i> ) / K<Sup>−1</Sup></Txt>

      {/* ---------- d texts ---------- */}
      <Txt x={45} y={520} size={22} f={SANS} b c="#111">d)</Txt>
      <Txt x={75} y={659} a="c" rot size={18} f={SANS} b c="#222">E′ / MPa</Txt>
      <Txt x={267} y={841} a="c" size={18} f={SANS} b c="#222">a<Sub>T</Sub>*Frequency / Hz</Txt>
      <Txt x={590} y={841} a="c" size={18} f={SANS} b c="#222">a<Sub>T</Sub>*a<Sub>W</Sub>*Frequency / Hz</Txt>
      <Txt x={272} y={775} size={19} f={SANS} b c="#222">T<Sub>ref</Sub> = 40 <Sup>o</Sup>C</Txt>
      <Txt x={488} y={775} size={19} f={SANS} b c="#222">T<Sub>ref</Sub> = 40 <Sup>o</Sup>C</Txt>
      <Txt x={647} y={775} size={19} f={SANS} b c="#222">RH<Sub>ref</Sub> = 80 %</Txt>
      <div style={{ position: 'absolute', left: 657, top: 644, width: 92, height: 110, border: '1.5px solid #8a8a8a', background: '#fff' }}>
        {D_LABELS.map((t, k) => (
          <React.Fragment key={t}>
            <LegendMark k={k} color={D_COLORS[k]} top={12 + 17.4 * k} />
            <div style={{ position: 'absolute', left: 29, top: 12 + 17.4 * k, transform: 'translateY(-50%)', fontFamily: SANS, fontSize: 15.5, color: D_COLORS[k], whiteSpace: 'nowrap', lineHeight: 1 }}>{t}</div>
          </React.Fragment>
        ))}
      </div>

      {/* ---------- e texts ---------- */}
      <Txt x={867} y={533} size={22} f={SANS} b c="#111">e)</Txt>
      <Txt x={1087} y={643} size={16} f={SANS} c="#333">B = -1.3362</Txt>
      <Txt x={965} y={753} size={16} f={SANS} b c="#222">RH<Sub>ref</Sub> = 80 %</Txt>
      <Txt x={910} y={653} a="c" rot size={17} f={SANS} b c="#222">Ln (a<Sub>W</Sub>)</Txt>
      <Txt x={1078} y={808} a="c" size={17} f={SANS} b c="#222">(W<Sub>H2O</Sub> - W<Sub>ref</Sub>) / wt%</Txt>
    </div>
  );
}
